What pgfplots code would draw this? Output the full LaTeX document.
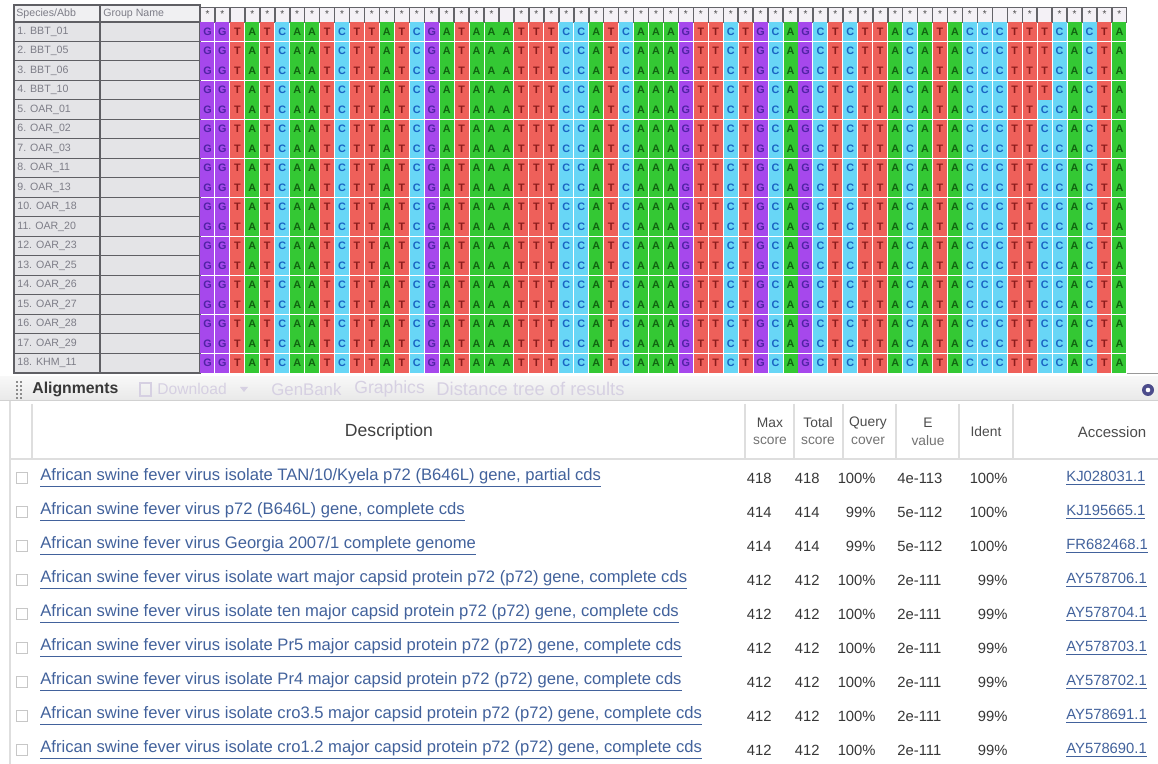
\documentclass[border=0pt]{standalone}
\usepackage{fontspec}
\setmainfont{Liberation Sans}
\usepackage{pgfplots}
\usepackage{pgfplotstable}
\pgfplotsset{compat=1.18}

\newcommand{\fs}[1]{\fontsize{#1}{#1}\selectfont}

\definecolor{baseA}{RGB}{52,200,52}
\definecolor{baseC}{RGB}{104,214,246}
\definecolor{baseG}{RGB}{166,72,236}
\definecolor{baseT}{RGB}{238,96,90}
\definecolor{txtA}{RGB}{16,100,16}
\definecolor{txtC}{RGB}{25,100,195}
\definecolor{txtG}{RGB}{80,35,165}
\definecolor{txtT}{RGB}{140,28,28}
\definecolor{hdrfill}{RGB}{244,241,246}
\definecolor{hdrline}{RGB}{100,100,105}
\definecolor{panel}{RGB}{228,228,231}
\definecolor{panelhdr}{RGB}{240,240,242}
\definecolor{panelline}{RGB}{95,95,100}
\definecolor{paneltext}{RGB}{125,125,135}
\definecolor{link}{RGB}{66,98,156}
\definecolor{numtext}{RGB}{55,55,55}
\definecolor{faded}{RGB}{214,208,226}
\definecolor{sepline}{RGB}{222,222,222}

% one cell of the alignment: 14 x 18.6 screen px (1 px = 0.5pt)
\pgfdeclareplotmark{cell}{\pgfpathrectangle{\pgfpoint{-3.5pt}{-4.65pt}}{\pgfpoint{7pt}{9.3pt}}\pgfusepathqfill}
\pgfdeclareplotmark{hbox}{\pgfpathrectangle{\pgfpoint{-3.6pt}{-3.75pt}}{\pgfpoint{7.2pt}{7.5pt}}\pgfusepathqfillstroke}

% alignment: position, conserved flag, base of each of the 18 sequences
\pgfplotstableread{
pos cons r1 r2 r3 r4 r5 r6 r7 r8 r9 r10 r11 r12 r13 r14 r15 r16 r17 r18
1 1 G G G G G G G G G G G G G G G G G G
2 1 G G G G G G G G G G G G G G G G G G
3 0 T T T T T T T T T T T T T T T T T T
4 1 A A A A A A A A A A A A A A A A A A
5 1 T T T T T T T T T T T T T T T T T T
6 1 C C C C C C C C C C C C C C C C C C
7 1 A A A A A A A A A A A A A A A A A A
8 1 A A A A A A A A A A A A A A A A A A
9 1 T T T T T T T T T T T T T T T T T T
10 1 C C C C C C C C C C C C C C C C C C
11 1 T T T T T T T T T T T T T T T T T T
12 1 T T T T T T T T T T T T T T T T T T
13 1 A A A A A A A A A A A A A A A A A A
14 1 T T T T T T T T T T T T T T T T T T
15 1 C C C C C C C C C C C C C C C C C C
16 1 G G G G G G G G G G G G G G G G G G
17 1 A A A A A A A A A A A A A A A A A A
18 1 T T T T T T T T T T T T T T T T T T
19 1 A A A A A A A A A A A A A A A A A A
20 1 A A A A A A A A A A A A A A A A A A
21 0 A A A A A A A A A A A A A A A A A A
22 1 T T T T T T T T T T T T T T T T T T
23 1 T T T T T T T T T T T T T T T T T T
24 1 T T T T T T T T T T T T T T T T T T
25 1 C C C C C C C C C C C C C C C C C C
26 1 C C C C C C C C C C C C C C C C C C
27 1 A A A A A A A A A A A A A A A A A A
28 1 T T T T T T T T T T T T T T T T T T
29 1 C C C C C C C C C C C C C C C C C C
30 1 A A A A A A A A A A A A A A A A A A
31 1 A A A A A A A A A A A A A A A A A A
32 1 A A A A A A A A A A A A A A A A A A
33 1 G G G G G G G G G G G G G G G G G G
34 1 T T T T T T T T T T T T T T T T T T
35 1 T T T T T T T T T T T T T T T T T T
36 1 C C C C C C C C C C C C C C C C C C
37 1 T T T T T T T T T T T T T T T T T T
38 1 G G G G G G G G G G G G G G G G G G
39 1 C C C C C C C C C C C C C C C C C C
40 1 A A A A A A A A A A A A A A A A A A
41 1 G G G G G G G G G G G G G G G G G G
42 1 C C C C C C C C C C C C C C C C C C
43 1 T T T T T T T T T T T T T T T T T T
44 1 C C C C C C C C C C C C C C C C C C
45 1 T T T T T T T T T T T T T T T T T T
46 1 T T T T T T T T T T T T T T T T T T
47 1 A A A A A A A A A A A A A A A A A A
48 1 C C C C C C C C C C C C C C C C C C
49 1 A A A A A A A A A A A A A A A A A A
50 1 T T T T T T T T T T T T T T T T T T
51 1 A A A A A A A A A A A A A A A A A A
52 1 C C C C C C C C C C C C C C C C C C
53 1 C C C C C C C C C C C C C C C C C C
54 0 C C C C C C C C C C C C C C C C C C
55 1 T T T T T T T T T T T T T T T T T T
56 1 T T T T T T T T T T T T T T T T T T
57 0 T T T T C C C C C C C C C C C C C C
58 1 C C C C C C C C C C C C C C C C C C
59 1 A A A A A A A A A A A A A A A A A A
60 1 C C C C C C C C C C C C C C C C C C
61 1 T T T T T T T T T T T T T T T T T T
62 1 A A A A A A A A A A A A A A A A A A
}\aln

% BLAST hits
\pgfplotstableread[col sep=semicolon]{
row;desc;max;total;cover;evalue;ident;acc
1;African swine fever virus isolate TAN/10/Kyela p72 (B646L) gene, partial cds;418;418;100\%;4e-113;100\%;KJ028031.1
2;African swine fever virus p72 (B646L) gene, complete cds;414;414;99\%;5e-112;100\%;KJ195665.1
3;African swine fever virus Georgia 2007/1 complete genome;414;414;99\%;5e-112;100\%;FR682468.1
4;African swine fever virus isolate wart major capsid protein p72 (p72) gene, complete cds;412;412;100\%;2e-111;99\%;AY578706.1
5;African swine fever virus isolate ten major capsid protein p72 (p72) gene, complete cds;412;412;100\%;2e-111;99\%;AY578704.1
6;African swine fever virus isolate Pr5 major capsid protein p72 (p72) gene, complete cds;412;412;100\%;2e-111;99\%;AY578703.1
7;African swine fever virus isolate Pr4 major capsid protein p72 (p72) gene, complete cds;412;412;100\%;2e-111;99\%;AY578702.1
8;African swine fever virus isolate cro3.5 major capsid protein p72 (p72) gene, complete cds;412;412;100\%;2e-111;99\%;AY578691.1
9;African swine fever virus isolate cro1.2 major capsid protein p72 (p72) gene, complete cds;412;412;100\%;2e-111;99\%;AY578690.1
}\blast

\begin{document}
\begin{tikzpicture}
\begin{scope}[x=0.5pt,y=-0.5pt]
\fill[white] (0,0) rectangle (1158,764);
% species panel
\fill[panelhdr] (14,5) rectangle (200,22);
\fill[panel] (14,22) rectangle (200,373);
\foreach \i in {1,...,17}{
  \draw[panelline, line width=0.5pt] (14,{22+\i*19.5}) -- (200,{22+\i*19.5});
}
\foreach \nm [count=\i] in {BBT\_01,BBT\_05,BBT\_06,BBT\_10,OAR\_01,OAR\_02,OAR\_03,OAR\_11,OAR\_13,OAR\_18,OAR\_20,OAR\_23,OAR\_25,OAR\_26,OAR\_27,OAR\_28,OAR\_29,KHM\_11}{
  \node[anchor=west, text=paneltext, font=\fs{5.3}, inner sep=0pt] at (17,{22+(\i-0.5)*19.5}) {\i. \nm};
}
\draw[panelline, line width=0.6pt] (14,5) rectangle (200,373) (100,5) -- (100,373) (14,22) -- (200,22);
\node[anchor=west, text=paneltext, font=\fs{5.3}, inner sep=0pt] at (16,13.5) {Species/Abb};
\node[anchor=west, text=paneltext, font=\fs{5.3}, inner sep=0pt] at (103,13.5) {Group Name};
\draw[black!40, line width=0.5pt] (1127,374) -- (1158,374);
\coordinate (alnNW) at (200,2.5);
\coordinate (tblNW) at (0,461);
% toolbar
\fill[top color=white!97!black, bottom color=white!91!black] (0,377) rectangle (1158,401);
\draw[black!18, line width=0.5pt] (0,401) -- (1158,401);
\foreach \yy in {381,385,389,393,397}{
  \fill[black!45] (16,\yy) rectangle (17.6,{\yy+2});
  \fill[black!45] (20,\yy) rectangle (21.6,{\yy+2});
}
\node[anchor=west, inner sep=0pt, font=\fs{7.9}\bfseries, text=black!78] at (32,389) {Alignments};
\draw[faded, line width=0.6pt] (140,383) rectangle (151,396);
\node[anchor=west, inner sep=0pt, font=\fs{7.8}, text=faded] at (157,389) {Download};
\fill[faded] (240,387) -- (248,387) -- (244,392) -- cycle;
\node[anchor=west, inner sep=0pt, font=\fs{8.4}, text=faded] at (271,389) {GenBank};
\node[anchor=west, inner sep=0pt, font=\fs{8.8}, text=faded] at (354,389) {Graphics};
\node[anchor=west, inner sep=0pt, font=\fs{9.2}, text=faded] at (436,389) {Distance tree of results};
\fill[black!65!blue!70] (1148,390) circle (6);
\fill[white] (1148,390) circle (2.3);
% table header
\draw[sepline, line width=0.6pt] (10,401) -- (10,764);
\draw[sepline, line width=0.6pt] (32,404) -- (32,458);
\draw[sepline, line width=0.6pt] (10,459) -- (1158,459);
\foreach \xx in {745,794,843,896,959,1013}{
  \draw[sepline, line width=0.6pt] (\xx,404) -- (\xx,458);
}
\node[font=\fs{8.8}, text=black!75, inner sep=0pt] at (389,432) {Description};
\node[font=\fs{6.9}, text=black!70, inner sep=0pt] at (770,423) {Max};
\node[font=\fs{6.9}, text=black!55, inner sep=0pt] at (770,441) {score};
\node[font=\fs{6.9}, text=black!70, inner sep=0pt] at (818,423) {Total};
\node[font=\fs{6.9}, text=black!55, inner sep=0pt] at (818,441) {score};
\node[font=\fs{6.9}, text=black!70, inner sep=0pt] at (868,423) {Query};
\node[font=\fs{6.9}, text=black!55, inner sep=0pt] at (868,441) {cover};
\node[font=\fs{6.9}, text=black!70, inner sep=0pt] at (928,423) {E};
\node[font=\fs{6.9}, text=black!55, inner sep=0pt] at (928,441) {value};
\node[font=\fs{6.9}, text=black!70, inner sep=0pt] at (986,432) {Ident};
\node[font=\fs{7.5}, text=black!70, inner sep=0pt] at (1112,432) {Accession};
\end{scope}

% alignment grid
\begin{axis}[
  at={(alnNW)}, anchor=north west,
  width=463.45pt, height=185.25pt, scale only axis,
  xmin=0.5, xmax=62.5, ymin=-0.5, ymax=18.5, y dir=reverse,
  hide axis, clip=false,
]
\addplot[only marks, mark=hbox, mark options={fill=hdrfill, draw=hdrline, line width=0.45pt}]
  table[x=pos, y expr=0.115] {\aln};
\addplot[draw=none, mark=none, restrict expr to domain={\thisrow{cons}}{1:1},
  nodes near coords={*},
  every node near coord/.append style={anchor=center, inner sep=0pt, font=\fs{5}, text=black!70}]
  table[x=pos, y expr=0.115] {\aln};
\pgfplotsinvokeforeach{1,...,18}{
  \addplot[scatter, only marks, mark=cell, point meta=explicit symbolic,
    scatter/classes={
      A={mark=cell, fill=baseA, draw=baseA},
      C={mark=cell, fill=baseC, draw=baseC},
      G={mark=cell, fill=baseG, draw=baseG},
      T={mark=cell, fill=baseT, draw=baseT}}]
    table[x=pos, y expr=#1, meta=r#1] {\aln};
  \addplot[draw=none, mark=none, point meta=explicit symbolic,
    nodes near coords={\textcolor{txt\pgfplotspointmeta}{\pgfplotspointmeta}},
    every node near coord/.append style={anchor=center, inner sep=0pt, font=\fs{5.4}\bfseries}]
    table[x=pos, y expr=#1, meta=r#1] {\aln};
}
\end{axis}

% BLAST results
\begin{axis}[
  at={(tblNW)}, anchor=north west,
  width=579pt, height=153pt, scale only axis,
  xmin=0, xmax=1158, ymin=0.5, ymax=9.5, y dir=reverse,
  hide axis, clip=false,
  every node near coord/.append style={inner sep=0pt, font=\fs{7.4}},
]
\addplot[only marks, mark=square*, mark size=2.9pt,
  mark options={fill=white, draw=black!22, line width=0.4pt}]
  table[x expr=22, y=row] {\blast};
\addplot[draw=none, mark=none, point meta=explicit symbolic,
  nodes near coords={\underline{\pgfplotspointmeta}},
  every node near coord/.append style={anchor=west, text=link, font=\fs{8.3}}]
  table[x expr=40, y=row, meta=desc] {\blast};
\addplot[draw=none, mark=none, point meta=explicit symbolic,
  nodes near coords={\pgfplotspointmeta},
  every node near coord/.append style={anchor=east, text=numtext}]
  table[x expr=772, y=row, meta=max] {\blast};
\addplot[draw=none, mark=none, point meta=explicit symbolic,
  nodes near coords={\pgfplotspointmeta},
  every node near coord/.append style={anchor=east, text=numtext}]
  table[x expr=820, y=row, meta=total] {\blast};
\addplot[draw=none, mark=none, point meta=explicit symbolic,
  nodes near coords={\pgfplotspointmeta},
  every node near coord/.append style={anchor=east, text=numtext}]
  table[x expr=876, y=row, meta=cover] {\blast};
\addplot[draw=none, mark=none, point meta=explicit symbolic,
  nodes near coords={\pgfplotspointmeta},
  every node near coord/.append style={anchor=west, text=numtext}]
  table[x expr=897, y=row, meta=evalue] {\blast};
\addplot[draw=none, mark=none, point meta=explicit symbolic,
  nodes near coords={\pgfplotspointmeta},
  every node near coord/.append style={anchor=east, text=numtext}]
  table[x expr=1008, y=row, meta=ident] {\blast};
\addplot[draw=none, mark=none, point meta=explicit symbolic,
  nodes near coords={\underline{\pgfplotspointmeta}},
  every node near coord/.append style={anchor=west, text=link}]
  table[x expr=1066, y=row, meta=acc] {\blast};
\end{axis}

\pgfresetboundingbox
\path[use as bounding box] (0,0) rectangle (579pt,-382pt);
\end{tikzpicture}
\end{document}
